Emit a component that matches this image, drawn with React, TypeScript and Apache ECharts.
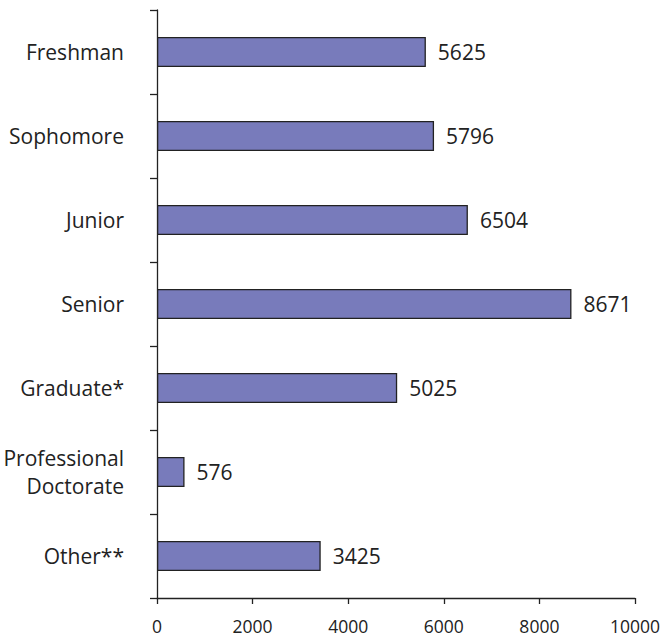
import React, { useEffect, useRef } from "react";
import * as echarts from "echarts";

const categories = [
  "Freshman",
  "Sophomore",
  "Junior",
  "Senior",
  "Graduate*",
  "Professional\nDoctorate",
  "Other**",
];
const values = [5625, 5796, 6504, 8671, 5025, 576, 3425];
const xMin = 0;
const xMax = 10000;
const xInterval = 2000;

export default function App() {
  const ref = useRef<HTMLDivElement>(null);
  useEffect(() => {
    if (!ref.current) return;
    const chart = echarts.init(ref.current, null, { renderer: "svg" });
    const font = "'Open Sans', 'Noto Sans', sans-serif";
    chart.setOption({
      animation: false,
      backgroundColor: "#ffffff",
      grid: { left: 157, right: 26, top: 10, bottom: 39, containLabel: false },
      xAxis: {
        type: "value",
        min: xMin,
        max: xMax,
        interval: xInterval,
        splitLine: { show: false },
        axisLine: { show: true, lineStyle: { color: "#222", width: 1.3 } },
        axisTick: { show: true, length: 6, lineStyle: { color: "#222", width: 1.3 } },
        axisLabel: {
          color: "#222",
          fontSize: 17.5,
          fontFamily: font,
          margin: 19,
          formatter: (v: number) => String(v),
        },
      },
      yAxis: {
        type: "category",
        data: categories,
        inverse: true,
        axisLine: { show: true, lineStyle: { color: "#222", width: 1.3 } },
        axisTick: { show: true, length: 7, lineStyle: { color: "#222", width: 1.3 } },
        axisLabel: {
          color: "#222",
          fontSize: 21,
          fontFamily: font,
          margin: 33,
          lineHeight: 28,
          align: "right",
        },
      },
      series: [
        {
          type: "bar",
          data: values,
          barWidth: 30,
          itemStyle: { color: "#787bbb", borderColor: "#222", borderWidth: 1.3 },
          label: {
            show: true,
            position: "right",
            distance: 12,
            color: "#222",
            fontSize: 21,
            fontFamily: font,
          },
        },
      ],
    });
    return () => chart.dispose();
  }, []);
  return (
    <div
      ref={ref}
      style={{ position: "fixed", left: 0, top: 0, width: 663, height: 637 }}
    />
  );
}
